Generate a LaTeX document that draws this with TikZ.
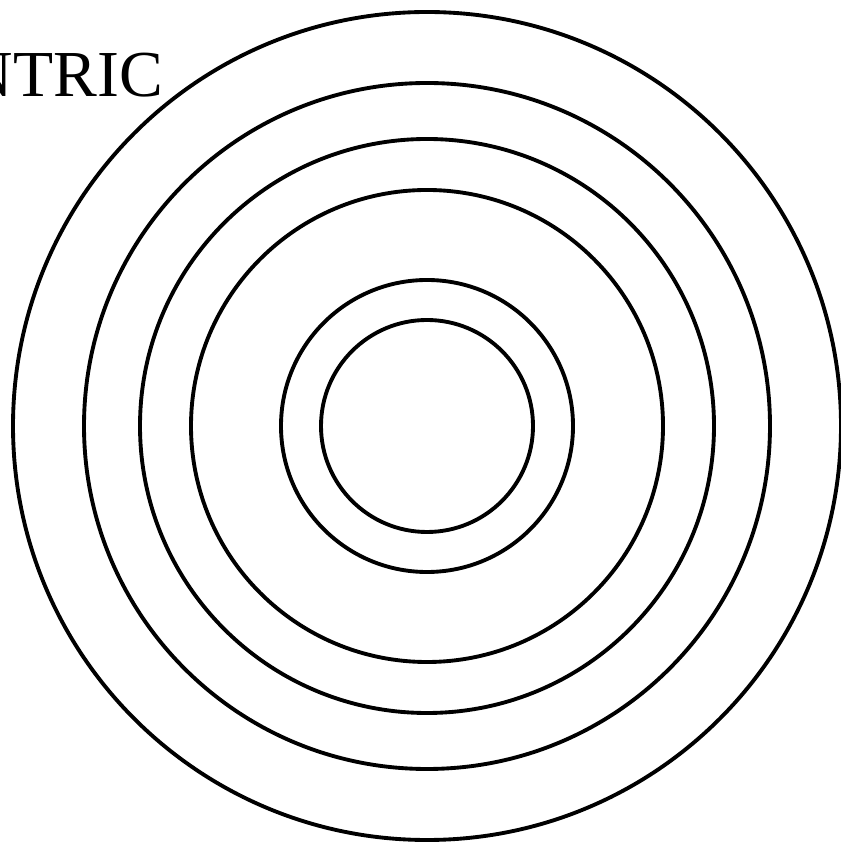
\documentclass[tikz,border=0pt]{standalone}
\usepackage{fontspec}
\setmainfont{Liberation Serif}

\begin{document}
\begin{tikzpicture}[x=0.03cm, y=0.03cm]
\useasboundingbox (0,0) rectangle (840,843);
% Title, cut off at the left edge
\node[font=\fontsize{56}{60}\selectfont, anchor=base east, inner sep=0pt] (title) at (163,746) {NTRIC};
% Concentric rings
\coordinate (centre) at (427,417);
\foreach \r in {414, 343, 287, 236, 146, 106} {
    \draw[line width=3.3pt] (centre) circle (\r);
}
\end{tikzpicture}
\end{document}
